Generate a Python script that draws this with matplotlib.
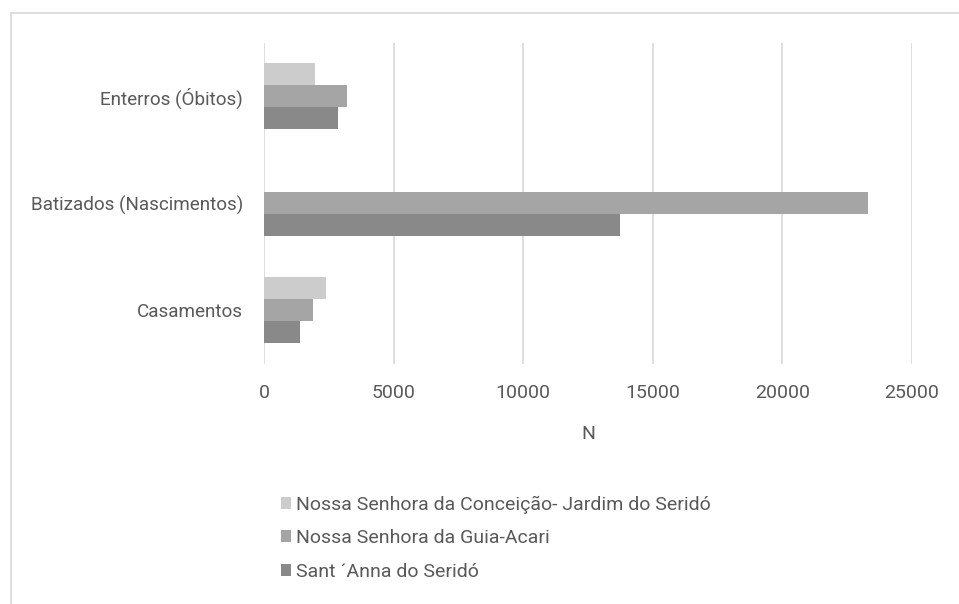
import matplotlib
matplotlib.use("Agg")
import matplotlib.pyplot as plt
from matplotlib import font_manager
from matplotlib.patches import Rectangle

# categories, bottom to top
categories = ["Casamentos", "Batizados (Nascimentos)", "Enterros (Óbitos)"]
series_names = [
    "Nossa Senhora da Conceição- Jardim do Seridó",
    "Nossa Senhora da Guia-Acari",
    "Sant \u00b4Anna do Seridó",
]
conceicao = [2380, 0, 1980]
guia_acari = [1880, 23300, 3190]
sant_anna = [1390, 13720, 2840]
x_ticks = [0, 5000, 10000, 15000, 20000, 25000]

names = {f.name for f in font_manager.fontManager.ttflist}
family = "Liberation Sans Narrow" if "Liberation Sans Narrow" in names else "Roboto"
plt.rcParams["font.family"] = [family, "DejaVu Sans"]

txt = "#595959"
colors = ["#cccccc", "#a5a5a5", "#898989"]

fig = plt.figure(figsize=(9.59, 6.04), dpi=100)
W, H = 959, 604
ax = fig.add_axes([264 / W, 1 - 363.5 / H, (912 - 264) / W, 321 / H])

h = 22 / 107
pos = range(len(categories))
for k, (vals, col, name) in enumerate(zip([conceicao, guia_acari, sant_anna], colors, series_names)):
    off = (1 - k) * h
    ax.barh([p + off for p in pos], vals, height=h, color=col, label=name, zorder=3)

ax.set_xlim(0, 25000)
ax.set_ylim(-0.5, 2.5)
ax.set_xticks(x_ticks)
ax.set_xticklabels([str(t) for t in x_ticks])
ax.set_yticks(list(pos))
ax.set_yticklabels(categories)
ax.tick_params(length=0, labelsize=14, colors=txt)
ax.tick_params(axis="x", pad=15)
ax.tick_params(axis="y", pad=15, labelsize=13.6)
ax.grid(axis="x", color="#d9d9d9", linewidth=1.2, zorder=0)
for s in ax.spines.values():
    s.set_visible(False)
ax.set_xlabel("N", fontsize=14, color=txt, labelpad=16)

handles, labels = ax.get_legend_handles_labels()
leg = fig.legend(handles, labels, loc="upper left", bbox_to_anchor=(263 / W, 1 - 478 / H),
                 frameon=False, fontsize=14, labelcolor=txt, handlelength=0.55, handleheight=0.55,
                 handletextpad=0.25, labelspacing=0.8)

# outer chart border, running off the right and bottom edges
fig.patches.append(Rectangle((11 / W, -0.1), 1.2, 1 - 13 / H + 0.1, transform=fig.transFigure,
                             fill=False, edgecolor="#d9d9d9", linewidth=1.2))

fig.savefig("out.png", dpi=100)
